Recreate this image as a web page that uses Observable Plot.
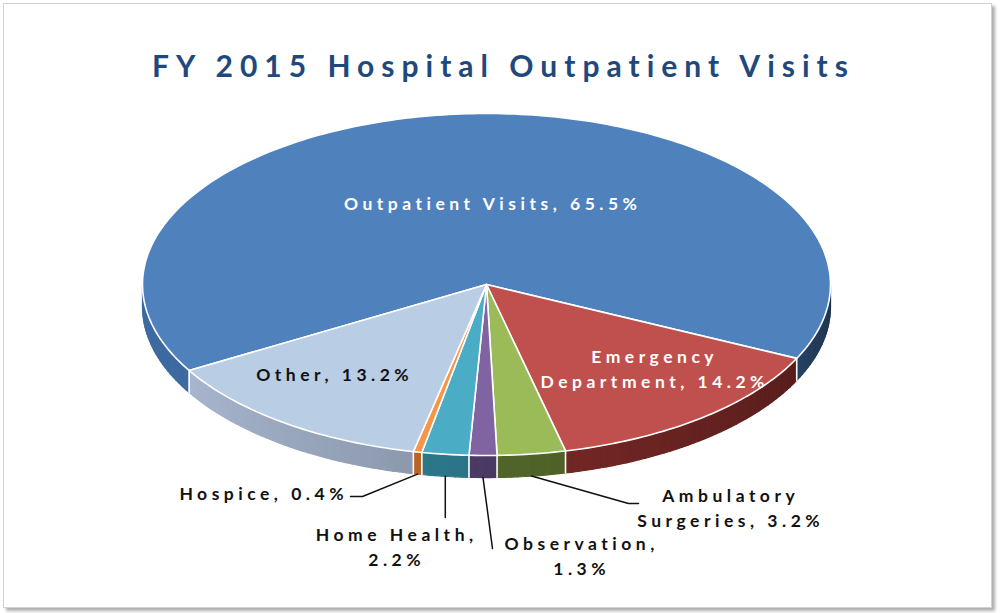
<!DOCTYPE html>
<html><head><meta charset="utf-8">
<script src="https://cdn.jsdelivr.net/npm/d3@7"></script>
<script src="https://cdn.jsdelivr.net/npm/@observablehq/plot@0.6"></script>
<style>
body{margin:0;background:#fff;font-family:Lato,sans-serif}
#wrap{position:relative;width:1000px;height:613px;overflow:hidden;background:#fff}
#frame{position:absolute;left:3px;top:3px;width:987px;height:603px;border:1px solid #d2d2d2;box-shadow:3px 3px 3px #adadad;background:#fff}
#title{position:absolute;left:0;width:1000px;top:47px;padding-left:7px;box-sizing:border-box;text-align:center;font-family:Lato;font-weight:700;font-size:30px;letter-spacing:7px;color:#1F497D;line-height:36px;white-space:nowrap}
#chart{position:absolute;left:0;top:0}
#chart text{letter-spacing:4.5px}
</style></head><body>
<div id="wrap"><div id="frame"></div><div id="title">FY 2015 Hospital Outpatient Visits</div><div id="chart"></div></div>
<script>
// ---- data ----
const categories = ["Outpatient Visits","Emergency Department","Ambulatory Surgeries","Observation","Home Health","Hospice","Other"];
const shares = [65.5,14.2,3.2,1.3,2.2,0.4,13.2];
const lineBreakAfter = [null,"Emergency","Ambulatory","Observation,","Home Health,",null,null];

// ---- style ----
const topColors  = ["#4F81BD","#C0504D","#9BBB59","#8064A2","#4BACC6","#F79646","#B9CDE5"];
const sideBase   = ["#3E6AA1","#92312E","#647C33","#5B487A","#358EA5","#DC7832","#A7B6CE"];
const labelFill  = ["white","white","#111","#111","#111","#111","#111"];
const startDeg = 239.8;            // first slice start angle (clockwise from 12 o'clock)
const depth = 0.129;               // side wall depth in radius units (y)
// label layout in pixel space
const labelPos = [[490,201,"middle"],[652,367,"middle"],[728,506,"middle"],[579,554,"middle"],[394,545,"middle"],[343,491,"end"],[332,372,"middle"]];
const leaderPts = {2:[[628,503],[638,503]],3:[[492,548]],4:[[null,517]],5:[[362,496],[350,496]]};

const CX=486, RX=344, CY=284, RY=171;
const X = px => (px-CX)/RX, Y = py => (CY-py)/RY;
const rad = d => d*Math.PI/180;

const arcs = d3.pie().value(d=>d).sort(null)
  .startAngle(rad(startDeg)).endAngle(rad(startDeg+360))(shares)
  .map((a,i)=>({i, a0:a.startAngle*180/Math.PI, a1:a.endAngle*180/Math.PI}));

const shade = d3.scaleLinear().domain([90,115,166,192,240,270]).range([0.48,0.6,0.78,0.84,1,1]).clamp(true);
const mod = t => ((t%360)+360)%360;

// top faces
const topRows = [];
arcs.forEach(({i,a0,a1})=>{
  topRows.push({id:i,x:0,y:0,fill:topColors[i]});
  const n = Math.max(2,Math.ceil(a1-a0));
  for(let k=0;k<=n;k++){const t=rad(a0+(a1-a0)*k/n); topRows.push({id:i,x:Math.sin(t),y:Math.cos(t),fill:topColors[i]});}
});

// side walls (front half, 90..270 deg), split into thin shaded segments
const sideRows = []; let sid=0;
arcs.forEach(({i,a0,a1})=>{
  for(let k=-1;k<=2;k++){
    const lo=Math.max(a0,90+360*k), hi=Math.min(a1,270+360*k);
    if(hi<=lo) continue;
    const n=Math.max(1,Math.ceil((hi-lo)/1.2));
    for(let j=0;j<n;j++){
      const t0=lo+(hi-lo)*j/n, t1=lo+(hi-lo)*(j+1)/n;
      const c=d3.rgb(sideBase[i]), m=shade(mod((t0+t1)/2));
      const col=d3.rgb(c.r*m,c.g*m,c.b*m).formatHex();
      const p=[[t0,0],[t1,0],[t1,-depth],[t0,-depth]];
      p.forEach(([t,dz])=>sideRows.push({id:sid,x:Math.sin(rad(t)),y:Math.cos(rad(t))+dz,fill:col}));
      sid++;
    }
  }
});

// white separators on the side
const sepRows=[];
arcs.forEach(({i,a0})=>{
  const t=mod(a0);
  if(t>=90&&t<=270){sepRows.push({id:i,x:Math.sin(rad(t)),y:Math.cos(rad(t))});sepRows.push({id:i,x:Math.sin(rad(t)),y:Math.cos(rad(t))-depth});}
});

// leader lines: start at side bottom at slice mid-angle
const leadRows=[];
Object.entries(leaderPts).forEach(([k,pts])=>{
  const {a0,a1}=arcs[+k]; const m=rad((a0+a1)/2);
  const sx=Math.sin(m), sy=Math.cos(m)-depth;
  leadRows.push({id:k,x:sx,y:sy});
  pts.forEach(([px,py])=>leadRows.push({id:k,x:px==null?sx:X(px),y:Y(py)}));
});

// labels
const labels = categories.map((c,i)=>{
  let s=`${c}, ${shares[i].toFixed(1)}%`;
  if(lineBreakAfter[i]){const b=lineBreakAfter[i]; s=s.replace(b+" ",b+"\n");}
  return {text:s,x:X(labelPos[i][0]),y:Y(labelPos[i][1]),anchor:labelPos[i][2],fill:labelFill[i]};
});

const chart = Plot.plot({
  width:1000,height:613,margin:0,
  style:{background:"transparent",fontFamily:"Lato"},
  x:{domain:[-1,1],range:[CX-RX,CX+RX],axis:null},
  y:{domain:[-1,1],range:[CY+RY,CY-RY],axis:null},
  marks:[
    Plot.line(sideRows,{x:"x",y:"y",z:"id",fill:"fill",stroke:"fill",strokeWidth:1.2,curve:"linear-closed"}),
    Plot.line(sepRows,{x:"x",y:"y",z:"id",stroke:"white",strokeWidth:1.6}),
    Plot.line(topRows,{x:"x",y:"y",z:"id",fill:"fill",stroke:"white",strokeWidth:1.6,strokeLinejoin:"round",curve:"linear-closed"}),
    Plot.line(leadRows,{x:"x",y:"y",z:"id",stroke:"#111",strokeWidth:1.5}),
    Plot.text(labels.filter(d=>d.anchor==="middle"),{x:"x",y:"y",dx:2.2,text:"text",fill:"fill",textAnchor:"middle",fontSize:17.5,fontWeight:700,lineHeight:1.43}),
    Plot.text(labels.filter(d=>d.anchor==="end"),{x:"x",y:"y",dx:4.5,text:"text",fill:"fill",textAnchor:"end",fontSize:17.5,fontWeight:700,lineHeight:1.43})
  ]
});
document.getElementById("chart").appendChild(chart);
</script>
</body></html>
